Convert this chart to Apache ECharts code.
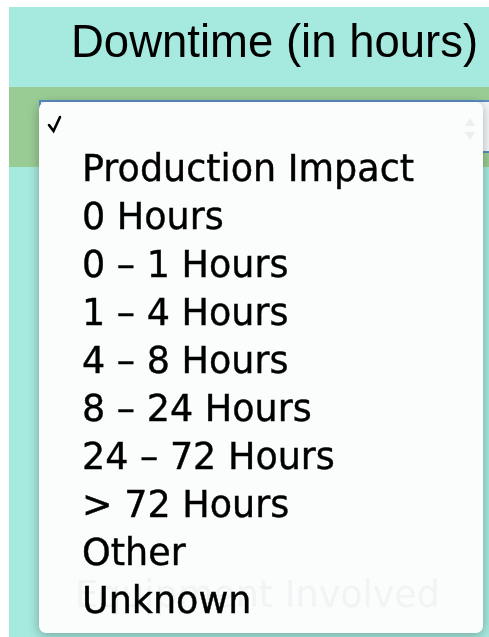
<!DOCTYPE html>
<html>
<head>
<meta charset="utf-8">
<script src="https://cdn.jsdelivr.net/npm/echarts@6/dist/echarts.min.js"></script>
<style>
  html, body { margin: 0; padding: 0; background: #fff; }
  #menu { width: 489px; height: 637px; }
</style>
</head>
<body>
<div id="menu"></div>
<script>
var title = 'Downtime (in hours)';
var options = ['Production Impact', '0 Hours', '0 \u2013 1 Hours', '1 \u2013 4 Hours', '4 \u2013 8 Hours',
    '8 \u2013 24 Hours', '24 \u2013 72 Hours', '> 72 Hours', 'Other', 'Unknown'];
var hiddenLabel = 'Equipment Involved';

var rowH = 48;
var firstBase = 182;
var itemFont = '36.5px "DejaVu Sans", sans-serif';

var elements = [
    // page background
    { type: 'rect', shape: { x: 9, y: 7, width: 480, height: 630 }, style: { fill: '#a6e9de' } },
    { type: 'rect', shape: { x: 9, y: 87, width: 480, height: 80 }, style: { fill: '#99cc94' } },
    // select box behind the popup
    { type: 'rect', shape: { x: 40, y: 101, width: 460, height: 51 },
      style: { fill: '#f4f8f8', stroke: '#5a8fc0', lineWidth: 2 } },
    // title
    { type: 'text', x: 71, y: 44,
      style: { text: title, fill: '#000', font: '45.5px "Liberation Sans", Arial, sans-serif', verticalAlign: 'middle' } },
    // popup
    { type: 'rect', shape: { x: 39, y: 102, width: 444, height: 531, r: 7 },
      style: { fill: '#fbfdfd', shadowBlur: 12, shadowColor: 'rgba(0,0,0,0.3)', shadowOffsetY: 2 } },
    // faded label showing through
    { type: 'text', x: 75, y: 598,
      style: { text: hiddenLabel, fill: '#f1f4f4', font: itemFont, verticalAlign: 'middle' } },
    // faint spinner arrows
    { type: 'polygon', shape: { points: [[465, 126], [475, 126], [470, 118]] }, style: { fill: '#eceeee' } },
    { type: 'polygon', shape: { points: [[465, 132], [475, 132], [470, 140]] }, style: { fill: '#eceeee' } },
    // check mark
    { type: 'polyline', shape: { points: [[49, 125], [53.5, 131], [60, 117]] },
      style: { stroke: '#000', lineWidth: 2.6, fill: null, lineJoin: 'miter', lineCap: 'round' } }
];

options.forEach(function (name, i) {
    elements.push({
        type: 'text', x: 82, y: firstBase + i * rowH - 10,
        style: { text: name, fill: '#000', stroke: '#000', lineWidth: 0.4,
                 font: itemFont, verticalAlign: 'middle' }
    });
});

var chart = echarts.init(document.getElementById('menu'));
chart.setOption({
    animation: false,
    graphic: { elements: elements }
});
</script>
</body>
</html>
